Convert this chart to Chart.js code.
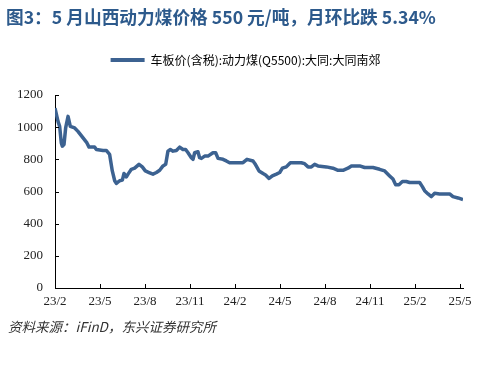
<!DOCTYPE html>
<html>
<head>
<meta charset="utf-8">
<script src="https://cdn.jsdelivr.net/npm/chart.js@4"></script>
<style>
  html, body { margin: 0; padding: 0; background: #fff; }
  #wrap { position: relative; width: 491px; height: 368px; overflow: hidden; }
  #title { position: absolute; left: 6px; top: 3px; font: bold 17.7px "Noto Sans CJK SC", "Liberation Sans", sans-serif; color: #2d5a8c; white-space: nowrap; }
  #source { position: absolute; left: 8px; top: 316px; font: italic 13.5px "Noto Sans CJK SC", "Liberation Sans", sans-serif; color: #333; white-space: nowrap; }
  canvas { position: absolute; left: 0; top: 0; }
</style>
</head>
<body>
<div id="wrap">
  <canvas id="coalChart" width="491" height="368"></canvas>
  <div id="title">图3：5 月山西动力煤价格 550 元/吨，月环比跌 5.34%</div>
  <div id="source">资料来源：iFinD，东兴证券研究所</div>
</div>
<script>
// months counted from 2023/2 (0) to 2025/5 (27)
const months = [0, 0.2, 0.31, 0.42, 0.49, 0.6, 0.71, 0.87, 1.02, 1.31, 1.53, 1.87, 2.13, 2.27, 2.64, 2.76,
  3.2, 3.42, 3.64, 3.82, 3.98, 4.09, 4.31, 4.49, 4.6, 4.76, 4.87, 5.09, 5.31, 5.6, 5.82, 6.02, 6.27, 6.53,
  6.76, 6.98, 7.2, 7.38, 7.53, 7.69, 7.87, 8.09, 8.31, 8.53, 8.71, 8.87, 9.09, 9.2, 9.31, 9.53, 9.64, 9.76,
  9.98, 10.2, 10.53, 10.71, 10.87, 11.2, 11.42, 11.64, 11.98, 12.31, 12.53, 12.8, 13.2, 13.33, 13.6, 13.87,
  14.04, 14.27, 14.49, 14.76, 14.98, 15.16, 15.42, 15.69, 15.98, 16.42, 16.64, 16.87, 17.09, 17.31, 17.53,
  18.09, 18.53, 18.87, 19.2, 19.53, 19.76, 20.31, 20.64, 21.2, 21.64, 21.98, 22.31, 22.53, 22.71, 22.93,
  23.16, 23.42, 23.64, 24.31, 24.49, 24.64, 24.87, 25.09, 25.31, 25.64, 26.31, 26.53, 26.87, 27.2];
const prices = [1118, 1036, 1005, 902, 882, 892, 995, 1067, 1005, 995, 974, 933, 902, 876, 876, 861,
  855, 855, 831, 728, 667, 650, 667, 671, 712, 691, 708, 738, 745, 769, 753, 728, 718, 708,
  718, 732, 759, 769, 851, 861, 851, 855, 876, 861, 861, 841, 810, 800, 841, 847, 810, 806,
  820, 820, 841, 841, 806, 800, 790, 779, 779, 779, 779, 800, 790, 773, 728, 712,
  703, 681, 697, 708, 718, 745, 753, 779, 779, 779, 773, 753, 753, 769, 759,
  753, 745, 732, 732, 745, 759, 759, 749, 749, 738, 728, 697, 677, 642, 642,
  662, 662, 656, 656, 630, 605, 585, 568, 589, 585, 585, 568, 560, 550];
const tickLabels = ['23/2', '23/5', '23/8', '23/11', '24/2', '24/5', '24/8', '24/11', '25/2', '25/5'];
const seriesName = '车板价(含税):动力煤(Q5500):大同:大同南郊';

const lineColor = '#3c6291';

// extra room under the legend, and centre it on the whole page
const legendTweak = {
  id: 'legendTweak',
  beforeInit(chart) {
    const fit = chart.legend.fit;
    chart.legend.fit = function() {
      fit.bind(chart.legend)();
      this.height += 19;
    };
  },
  afterLayout(chart) {
    chart.legend.left = 0;
    chart.legend.right = chart.width;
  }
};

// small tick marks pointing into the plot
const innerTicks = {
  id: 'innerTicks',
  afterDraw(chart) {
    const ctx = chart.ctx;
    const x = chart.scales.x, y = chart.scales.y;
    ctx.save();
    ctx.strokeStyle = '#000';
    ctx.lineWidth = 1;
    ctx.beginPath();
    x.ticks.forEach(t => {
      const px = Math.round(x.getPixelForValue(t.value)) + 0.5;
      ctx.moveTo(px, y.bottom);
      ctx.lineTo(px, y.bottom - 4);
    });
    y.ticks.forEach(t => {
      const py = Math.round(y.getPixelForValue(t.value)) + 0.5;
      ctx.moveTo(x.left, py);
      ctx.lineTo(x.left + 4, py);
    });
    ctx.stroke();
    ctx.restore();
  }
};

new Chart(document.getElementById('coalChart'), {
  type: 'line',
  data: {
    datasets: [{
      label: seriesName,
      data: months.map((m, i) => ({ x: m, y: prices[i] })),
      borderColor: lineColor,
      backgroundColor: lineColor,
      borderWidth: 3.5,
      pointRadius: 0,
      tension: 0,
      borderJoinStyle: 'round'
    }]
  },
  options: {
    responsive: false,
    animation: false,
    layout: { padding: { top: 50, left: 0, right: 28, bottom: 55 } },
    plugins: {
      legend: {
        position: 'top',
        labels: {
          boxWidth: 34,
          boxHeight: 4,
          padding: 4,
          color: '#333',
          font: { size: 12, family: '"Noto Sans CJK SC", sans-serif' },
          generateLabels(chart) {
            return chart.data.datasets.map((ds, i) => ({
              text: ds.label,
              fillStyle: ds.borderColor,
              strokeStyle: ds.borderColor,
              lineWidth: 0,
              datasetIndex: i
            }));
          }
        }
      },
      tooltip: { enabled: false }
    },
    scales: {
      x: {
        type: 'linear',
        min: 0,
        max: 27.2,
        afterFit(scale) { scale.height = 25; },
        afterBuildTicks(scale) {
          scale.ticks = tickLabels.map((l, i) => ({ value: i * 3 }));
        },
        grid: { display: false, drawTicks: false },
        border: { color: '#000', width: 1 },
        ticks: {
          padding: 6,
          maxRotation: 0,
          color: '#222',
          font: { size: 13, family: '"Liberation Serif", serif' },
          callback: (v) => tickLabels[Math.round(v / 3)]
        }
      },
      y: {
        min: 0,
        max: 1200,
        afterFit(scale) { scale.width = 55; },
        grid: { display: false, drawTicks: false },
        border: { color: '#000', width: 1 },
        ticks: {
          stepSize: 200,
          padding: 12,
          color: '#222',
          font: { size: 13, family: '"Liberation Serif", serif' },
          callback: (v) => String(v)
        }
      }
    }
  },
  plugins: [legendTweak, innerTicks]
});
</script>
</body>
</html>
